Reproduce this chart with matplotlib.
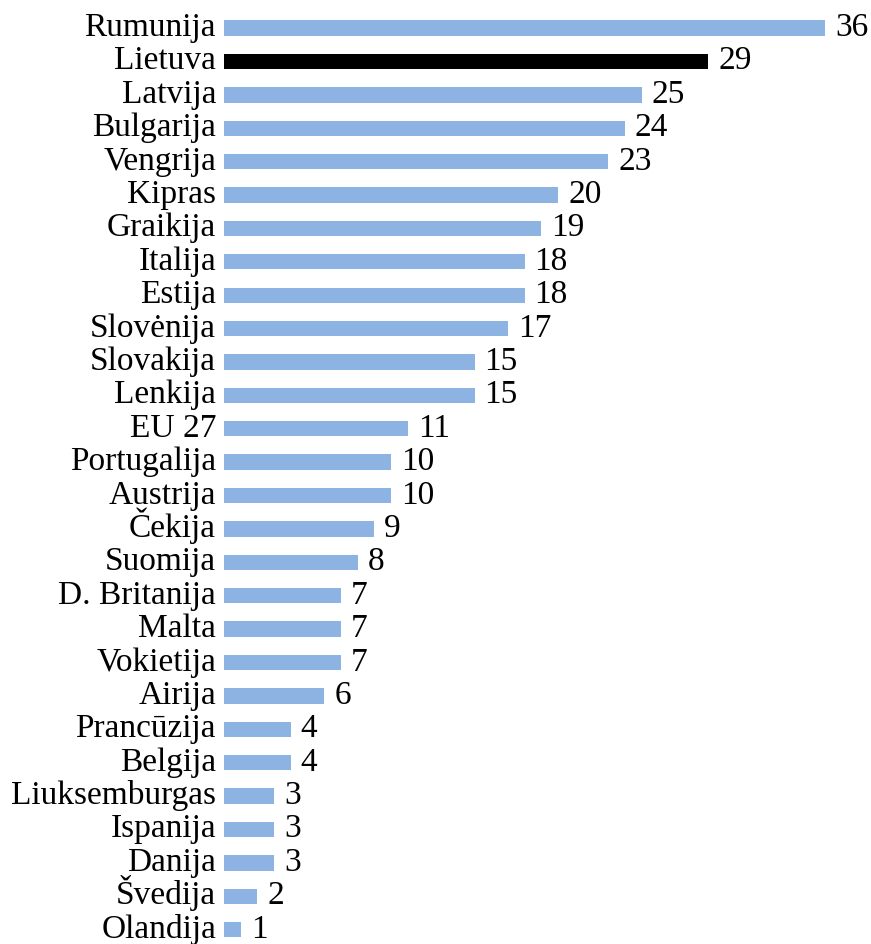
import matplotlib
matplotlib.use("Agg")
import matplotlib.pyplot as plt
from matplotlib.transforms import ScaledTranslation

# šalys ir reikšmės (nuo didžiausios)
salys = ["Rumunija", "Lietuva", "Latvija", "Bulgarija", "Vengrija", "Kipras",
         "Graikija", "Italija", "Estija", "Slovėnija", "Slovakija", "Lenkija",
         "EU 27", "Portugalija", "Austrija", "Čekija", "Suomija", "D. Britanija",
         "Malta", "Vokietija", "Airija", "Prancūzija", "Belgija", "Liuksemburgas",
         "Ispanija", "Danija", "Švedija", "Olandija"]
reiksmes = [36, 29, 25, 24, 23, 20, 19, 18, 18, 17, 15, 15, 11, 10, 10, 9, 8,
            7, 7, 7, 6, 4, 4, 3, 3, 3, 2, 1]
paryskinta = "Lietuva"

plt.rcParams['font.family'] = ['Liberation Serif', 'DejaVu Serif']

fig = plt.figure(figsize=(8.71, 9.44), dpi=100)
ax = fig.add_axes([224 / 871, 0, (869 - 224) / 871, 1])

spalvos = ["black" if s == paryskinta else "#8DB3E2" for s in salys]
y = list(range(len(salys)))
ax.barh(y, reiksmes, height=0.46, color=spalvos)

# tekstas nuleidžiamas, kad bazinė linija būtų ties stulpelio apačia
zemyn = ScaledTranslation(0, -8 / 100, fig.dpi_scale_trans)
kairen = ScaledTranslation(-8 / 100, -8 / 100, fig.dpi_scale_trans)

for i, v in enumerate(reiksmes):
    ax.text(v + 0.6, i, str(v), va="baseline", ha="left", fontsize=24,
            transform=ax.transData + zemyn)

# šalių pavadinimai kairėje
for i, s in enumerate(salys):
    ax.text(0, i, s, va="baseline", ha="right", fontsize=24,
            transform=ax.get_yaxis_transform() + kairen)

ax.set_yticks([])
ax.set_xticks([])
ax.set_xlim(0, (869 - 224) / 16.7)
ax.set_ylim(27.43, -0.84)
for sp in ax.spines.values():
    sp.set_visible(False)

fig.savefig("out.png", dpi=100)
